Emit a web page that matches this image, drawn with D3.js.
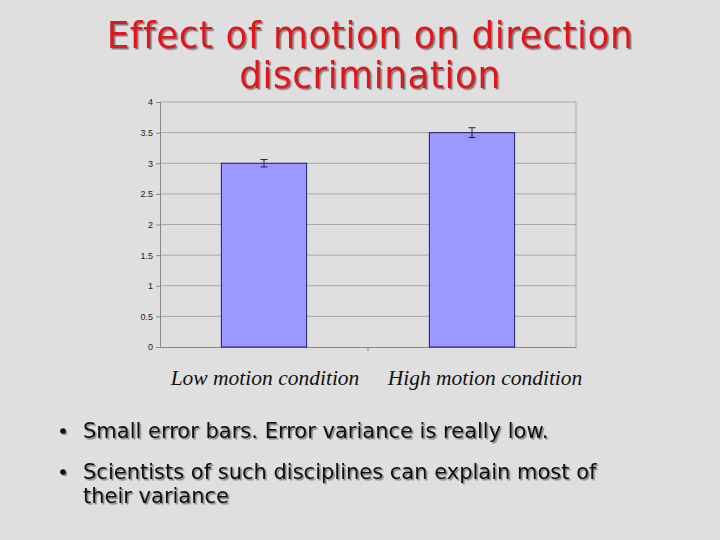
<!DOCTYPE html>
<html>
<head>
<meta charset="utf-8">
<script src="https://cdn.jsdelivr.net/npm/d3@7"></script>
<style>
  body { margin: 0; background: #dfdfdf; }
</style>
</head>
<body>
<script>
var w = 720;
var h = 540;

// chart data
var categories = ["Low motion condition", "High motion condition"];
var values = [3.0, 3.5];
var errors = [0.06, 0.08];
var yTicks = [0, 0.5, 1, 1.5, 2, 2.5, 3, 3.5, 4];
var titleLines = ["Effect of motion on direction", "discrimination"];
var bullets = [
    ["Small error bars. Error variance is really low."],
    ["Scientists of such disciplines can explain most of", "their variance"]
];

var plotLeft = 160, plotRight = 576, plotTop = 102, plotBottom = 347;

var svg = d3.select("body")
    .append("svg")
    .attr("width", w)
    .attr("height", h);

svg.append("defs").append("filter")
    .attr("id", "shadow")
    .append("feDropShadow")
    .attr("dx", 1.5).attr("dy", 1.5).attr("stdDeviation", 0.6)
    .attr("flood-color", "#555").attr("flood-opacity", 0.7);

svg.append("rect")
    .attr("width", w).attr("height", h)
    .attr("fill", "#dfdfdf");

//---title-----
svg.append("g")
    .attr("transform", "translate(370,0) scale(1.05,1)")
    .selectAll("text")
    .data(titleLines)
    .join("text")
    .text(function (d) { return d; })
    .attr("x", 0)
    .attr("y", function (d, i) { return 48 + i * 40.5; })
    .attr("text-anchor", "middle")
    .attr("font-size", 38)
    .attr("letter-spacing", 0.5)
    .attr("font-family", "DejaVu Sans Condensed")
    .attr("fill", "#e0141c")
    .attr("filter", "url(#shadow)");

//---scales-----
var x = d3.scaleBand()
    .domain(categories)
    .range([plotLeft, plotRight])
    .padding(0);

var y = d3.scaleLinear()
    .domain([0, 4])
    .range([plotBottom, plotTop]);

var barW = x.bandwidth() * 0.41;

//---grid-----
svg.append("g").selectAll("line")
    .data(yTicks.filter(function (d) { return d > 0; }))
    .join("line")
    .attr("x1", plotLeft).attr("x2", plotRight)
    .attr("y1", function (d) { return y(d); })
    .attr("y2", function (d) { return y(d); })
    .attr("stroke", "#a8a8a8")
    .attr("stroke-width", 1);

svg.append("line")
    .attr("x1", plotRight).attr("x2", plotRight)
    .attr("y1", plotTop).attr("y2", plotBottom)
    .attr("stroke", "#a8a8a8");

//---axes-----
var yAxis = svg.append("g")
    .attr("transform", "translate(" + plotLeft + ",0)")
    .call(d3.axisLeft(y).tickValues(yTicks).tickSize(4).tickPadding(3)
        .tickFormat(d3.format("")));
yAxis.selectAll("text")
    .attr("font-size", 9)
    .attr("font-family", "Liberation Sans")
    .attr("fill", "#222");
yAxis.selectAll("line, path").attr("stroke", "#888");

var xAxis = svg.append("g")
    .attr("transform", "translate(0," + plotBottom + ")")
    .call(d3.axisBottom(x).tickSize(0).tickFormat(""));
xAxis.select("path").attr("stroke", "#888");
xAxis.append("line")
    .attr("x1", x(categories[1])).attr("x2", x(categories[1]))
    .attr("y1", 0).attr("y2", 4)
    .attr("stroke", "#888");

//---bars-----
svg.append("g").selectAll("rect")
    .data(values)
    .join("rect")
    .attr("x", function (d, i) { return x(categories[i]) + x.bandwidth() / 2 - barW / 2; })
    .attr("y", function (d) { return y(d); })
    .attr("width", barW)
    .attr("height", function (d) { return y(0) - y(d); })
    .attr("fill", "#9999ff")
    .attr("stroke", "#1e1e5a")
    .attr("stroke-width", 1);

//---error bars-----
var eb = svg.append("g").attr("stroke", "#1e1e5a").attr("stroke-width", 1);
values.forEach(function (v, i) {
    var cx = x(categories[i]) + x.bandwidth() / 2;
    eb.append("line")
        .attr("x1", cx).attr("x2", cx)
        .attr("y1", y(v + errors[i])).attr("y2", y(v - errors[i]));
    [v + errors[i], v - errors[i]].forEach(function (e) {
        eb.append("line")
            .attr("x1", cx - 3.5).attr("x2", cx + 3.5)
            .attr("y1", y(e)).attr("y2", y(e));
    });
});

//---category labels-----
svg.append("g").selectAll("text")
    .data(categories)
    .join("text")
    .text(function (d) { return d; })
    .attr("x", function (d) { return x(d) + x.bandwidth() / 2 + (d === categories[0] ? 1 : 13); })
    .attr("y", 385)
    .attr("text-anchor", "middle")
    .attr("font-size", 21.5)
    .attr("font-style", "italic")
    .attr("font-family", "Liberation Serif")
    .attr("fill", "#111");

//---bullets-----
var by = [438, 479];
bullets.forEach(function (lines, i) {
    svg.append("circle")
        .attr("cx", 63).attr("cy", by[i] - 7)
        .attr("r", 2.8)
        .attr("fill", "#111")
        .attr("filter", "url(#shadow)");
    lines.forEach(function (t, j) {
        svg.append("text")
            .text(t)
            .attr("x", 83)
            .attr("y", by[i] + j * 24)
            .attr("font-size", 21)
            .attr("font-family", "DejaVu Sans")
            .attr("fill", "#111")
            .attr("filter", "url(#shadow)");
    });
});
</script>
</body>
</html>
